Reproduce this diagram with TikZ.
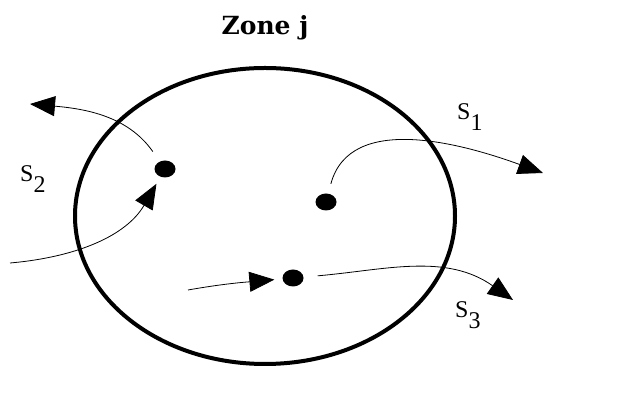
\documentclass[tikz,border=0pt]{standalone}
\usepackage{fontspec}
\setmainfont{Liberation Serif}
\newfontfamily\titlefont{DejaVu Serif}
\usetikzlibrary{arrows.meta,shapes.geometric}

\newcommand{\flowlabel}[1]{S\raisebox{-11pt}{#1}}

\begin{document}
\begin{tikzpicture}[x=1pt,y=1pt,
        zone/.style={draw,line width=4pt},
        particle/.style={ellipse,fill,inner sep=0pt,minimum width=21pt,minimum height=17pt},
        flow/.style={line width=0.8pt,-{Triangle[length=25pt,width=20pt]}},
        tag/.style={font=\fontsize{24}{26}\selectfont,inner sep=0pt,anchor=base west}
    ]
        \useasboundingbox (0,0) rectangle (618,403);
        \draw[zone] (265,187) ellipse [x radius=190,y radius=148];
        \node[font=\titlefont\bfseries\fontsize{25}{28}\selectfont,anchor=base] (title) at (265,368) {Zone j};

        \node[particle] (p1) at (165,234) {};
        \node[particle] (p2) at (326,201) {};
        \node[particle] (p3) at (293,125) {};

        \coordinate (s2end) at (30,299);
        \coordinate (s2start) at (10,140);
        \coordinate (s1end) at (543,230);
        \coordinate (s3start) at (188,113);
        \coordinate (s3end) at (513,103);

        \draw[flow,shorten <=12pt] (p1) to[out=125,in=-5] (s2end);
        \draw[flow,shorten >=8pt] (s2start) to[out=5,in=240] (p1);
        \draw[flow,shorten <=10pt] (p2) to[out=75,in=160] (s1end);
        \draw[flow,shorten >=8pt] (s3start) to[out=10,in=185] (p3);
        \draw[flow,shorten <=14pt] (p3) to[out=5,in=145] (s3end);

        \node[tag] (s1) at (457,283) {\flowlabel{1}};
        \node[tag] (s2) at (20,221) {\flowlabel{2}};
        \node[tag] (s3) at (455,85) {\flowlabel{3}};
    \end{tikzpicture}
\end{document}
